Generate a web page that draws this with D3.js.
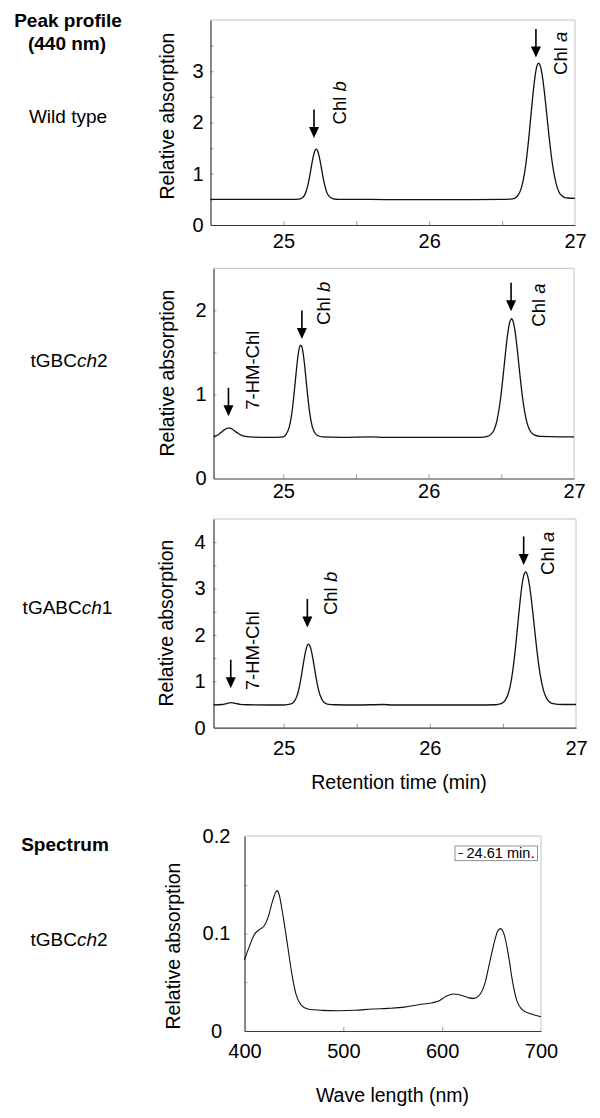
<!DOCTYPE html>
<html><head><meta charset="utf-8">
<script src="https://cdn.jsdelivr.net/npm/d3@7/dist/d3.min.js"></script>
<style>
html,body{margin:0;padding:0;background:#fff;}
svg{display:block;}
text{font-family:"Liberation Sans",Arial,Helvetica,sans-serif;fill:#000;}
</style></head><body>
<svg id="chart" width="600" height="1118"></svg>
<script>
// ---------------- DATA ----------------
const chromTicksX = [25, 26, 27];
const chromMinorX = [25, 25.5, 26, 26.5];
const wildTypeTicksY = [0, 1, 2, 3];
const tGBCch2TicksY = [0, 1, 2];
const tGABCch1TicksY = [0, 1, 2, 3, 4];
const spectrumTicksX = [400, 500, 600, 700];
const spectrumTicksY = [0, 0.1, 0.2];

// retention time (min), relative absorption
const wildTypeTrace = [
 [24.50,0.50],[24.60,0.50],[24.70,0.50],[24.80,0.50],[24.90,0.50],[25.00,0.50],[25.06,0.50],
 [25.105,0.504],[25.125,0.521],[25.145,0.583],[25.155,0.648],[25.165,0.744],[25.175,0.873],
 [25.185,1.028],[25.195,1.193],[25.205,1.34],[25.215,1.443],[25.225,1.48],[25.235,1.445],
 [25.245,1.345],[25.255,1.20],[25.265,1.04],[25.275,0.885],[25.285,0.757],[25.295,0.66],
 [25.305,0.595],[25.325,0.53],[25.345,0.51],[25.375,0.50],[25.50,0.50],[25.70,0.497],
 [26.00,0.497],[26.30,0.497],[26.50,0.50],[26.55,0.505],
 [26.57,0.508],[26.59,0.528],[26.61,0.581],[26.63,0.705],[26.65,0.949],[26.67,1.351],
 [26.68,1.612],[26.69,1.902],[26.70,2.205],[26.71,2.50],[26.72,2.766],[26.73,2.977],
 [26.74,3.113],[26.75,3.16],[26.76,3.12],[26.77,3.006],[26.78,2.827],[26.79,2.597],
 [26.80,2.335],[26.81,2.058],[26.82,1.785],[26.83,1.527],[26.85,1.102],[26.87,0.813],
 [26.89,0.645],[26.91,0.57],[26.93,0.535],[26.95,0.527],[27.00,0.52]
];
const tGBCch2Trace = [
 [24.52,0.50],[24.54,0.51],[24.56,0.53],[24.58,0.56],[24.60,0.585],[24.62,0.60],[24.635,0.598],
 [24.65,0.585],[24.67,0.56],[24.69,0.535],[24.71,0.515],[24.74,0.50],[24.80,0.492],[24.90,0.49],
 [24.95,0.49],[25.00,0.495],[25.02,0.528],[25.04,0.605],[25.05,0.682],[25.06,0.792],[25.07,0.937],
 [25.08,1.108],[25.09,1.285],[25.10,1.442],[25.11,1.551],[25.12,1.585],[25.13,1.553],[25.14,1.448],
 [25.15,1.295],[25.16,1.12],[25.17,0.95],[25.18,0.805],[25.19,0.695],[25.20,0.615],[25.22,0.535],
 [25.24,0.508],[25.27,0.495],[25.40,0.49],[25.60,0.495],[25.70,0.49],[26.00,0.49],[26.20,0.49],
 [26.35,0.49],[26.41,0.505],[26.43,0.528],[26.45,0.578],[26.47,0.689],[26.49,0.889],[26.50,1.025],
 [26.51,1.182],[26.52,1.349],[26.53,1.516],[26.54,1.669],[26.55,1.792],[26.56,1.872],[26.57,1.90],
 [26.58,1.874],[26.59,1.80],[26.60,1.68],[26.61,1.53],[26.62,1.365],[26.63,1.20],[26.64,1.045],
 [26.65,0.91],[26.67,0.71],[26.69,0.595],[26.71,0.54],[26.73,0.515],[26.77,0.50],[26.90,0.495],
 [27.00,0.495]
];
const tGABCch1Trace = [
 [24.52,0.49],[24.58,0.50],[24.61,0.52],[24.64,0.54],[24.67,0.525],[24.70,0.505],[24.75,0.495],
 [24.90,0.49],[25.00,0.49],[25.03,0.502],[25.05,0.514],[25.07,0.557],[25.09,0.676],[25.10,0.781],
 [25.11,0.922],[25.12,1.095],[25.13,1.289],[25.14,1.481],[25.15,1.647],[25.16,1.76],[25.17,1.80],
 [25.18,1.762],[25.19,1.652],[25.20,1.49],[25.21,1.30],[25.22,1.11],[25.23,0.94],[25.24,0.80],
 [25.25,0.695],[25.27,0.57],[25.29,0.52],[25.31,0.503],[25.35,0.495],[25.50,0.49],[25.68,0.50],
 [25.75,0.49],[26.00,0.49],[26.30,0.49],[26.45,0.495],[26.475,0.509],[26.495,0.53],[26.515,0.587],
 [26.535,0.72],[26.555,0.983],[26.575,1.415],[26.585,1.695],[26.595,2.007],[26.605,2.333],
 [26.615,2.651],[26.625,2.937],[26.635,3.163],[26.645,3.309],[26.655,3.36],[26.665,3.317],
 [26.675,3.194],[26.685,3.0],[26.695,2.754],[26.705,2.473],[26.715,2.176],[26.725,1.88],
 [26.735,1.604],[26.755,1.146],[26.775,0.837],[26.795,0.655],[26.815,0.564],[26.835,0.523],
 [26.875,0.505],[27.00,0.50]
];
// wavelength (nm), relative absorption at 24.61 min
const spectrumTrace = [
 [400,0.073],[405,0.087],[410,0.099],[415,0.104],[420,0.108],[424,0.117],[428,0.132],[431,0.141],
 [433,0.144],[435,0.140],[439,0.118],[444,0.085],[448,0.058],[452,0.038],[457,0.027],[464,0.0225],
 [478,0.0212],[495,0.0208],[512,0.0213],[529,0.0225],[545,0.0232],[562,0.0245],[576,0.027],
 [590,0.029],[597,0.031],[603,0.035],[611,0.038],[620,0.0365],[627,0.034],[632,0.0335],[637,0.036],
 [643,0.048],[648,0.07],[653,0.092],[656,0.102],[659,0.105],[663,0.098],[667,0.078],[671,0.052],
 [675,0.033],[681,0.022],[690,0.0175],[700,0.0147]
];
// peak annotations: label, italic part, arrow time (min), arrow tip value
const wildTypePeaks = [
 {label:"Chl ", ital:"b", time:25.21, tip:1.70},
 {label:"Chl ", ital:"a", time:26.732, tip:3.27}
];
const tGBCch2Peaks = [
 {label:"7-HM-Chl", ital:"", time:24.623, tip:0.74},
 {label:"Chl ", ital:"b", time:25.128, tip:1.66},
 {label:"Chl ", ital:"a", time:26.567, tip:1.99}
];
const tGABCch1Peaks = [
 {label:"7-HM-Chl", ital:"", time:24.638, tip:0.85},
 {label:"Chl ", ital:"b", time:25.162, tip:2.16},
 {label:"Chl ", ital:"a", time:26.642, tip:3.51}
];
const legendLabel = "24.61 min.";

// ---------------- LAYOUT ----------------
const svg = d3.select("#chart");
const FRAME = "#c4c4c4", AXIS = "#3a3a3a", TICK = "#9a9a9a";

function rowLabel(x, y, parts, bold) {
  const t = svg.append("text").attr("x", x).attr("y", y).attr("text-anchor", "middle")
    .style("font-size", "19px").style("font-weight", bold ? "bold" : "normal");
  parts.forEach(p => t.append("tspan").text(p[0]).style("font-style", p[1] ? "italic" : "normal"));
}

function yTitle(x, y) {
  svg.append("text").attr("transform", `translate(${x},${y}) rotate(-90)`)
    .attr("text-anchor", "middle").style("font-size", "19.5px").text("Relative absorption");
}

function panel(cfg) {
  const g = svg.append("g");
  const x = d3.scaleLinear().domain(cfg.xDomain).range([cfg.left, cfg.right]);
  const y = d3.scaleLinear().domain(cfg.yDomain).range([cfg.bottom, cfg.top]);
  g.append("path").attr("d", `M${cfg.left},${cfg.top}H${cfg.right}V${cfg.bottom}`)
    .attr("fill", "none").attr("stroke", FRAME).attr("stroke-width", 1);
  g.append("g").attr("transform", `translate(${cfg.left},0)`)
    .call(d3.axisLeft(y).tickValues(cfg.minorY).tickSize(-3).tickSizeOuter(0).tickFormat(""))
    .call(s => { s.select(".domain").remove(); s.selectAll("line").attr("stroke", TICK); });
  g.append("g").attr("transform", `translate(0,${cfg.bottom})`)
    .call(d3.axisBottom(x).tickValues(cfg.minorX).tickSize(-4).tickSizeOuter(0).tickFormat(""))
    .call(s => { s.select(".domain").remove(); s.selectAll("line").attr("stroke", TICK); });
  const ya = g.append("g").attr("transform", `translate(${cfg.left},0)`)
    .call(d3.axisLeft(y).tickValues(cfg.ticksY).tickSize(0).tickSizeOuter(0).tickPadding(cfg.yPad)
      .tickFormat(cfg.yFmt));
  ya.select(".domain").attr("stroke", AXIS).attr("stroke-width", 1.2);
  ya.selectAll("text").style("font-size", "20px").style("font-family", null).attr("fill", "#000");
  if (cfg.yAnchorMiddle) ya.selectAll("text").attr("text-anchor", "middle").attr("x", cfg.yLabelX - cfg.left);
  const xa = g.append("g").attr("transform", `translate(0,${cfg.bottom})`)
    .call(d3.axisBottom(x).tickValues(cfg.ticksX).tickSize(0).tickSizeOuter(0).tickFormat(cfg.xFmt));
  xa.select(".domain").attr("stroke", AXIS).attr("stroke-width", 1.2);
  xa.selectAll("text").style("font-size", "20px").style("font-family", null).attr("fill", "#000")
    .attr("dy", null).attr("y", cfg.xLabelBase - cfg.bottom);
  const line = d3.line().x(d => x(d[0])).y(d => y(d[1])).curve(d3.curveMonotoneX);
  g.append("path").datum(cfg.trace).attr("d", line).attr("fill", "none")
    .attr("stroke", "#111").attr("stroke-width", cfg.lw || 1.3).attr("stroke-linejoin", "round");
  (cfg.peaks || []).forEach((p, i) => {
    const ax = x(p.time), ty = y(p.tip);
    const o = cfg.annOffsets[i];
    g.append("line").attr("x1", ax).attr("x2", ax).attr("y1", ty - 28.5).attr("y2", ty - 9)
      .attr("stroke", "#000").attr("stroke-width", 1.6);
    g.append("path").attr("d", `M${ax - 5},${ty - 11}L${ax + 5},${ty - 11}L${ax},${ty}Z`).attr("fill", "#000");
    const t = g.append("text").attr("transform", `translate(${ax + o[0]},${ty + o[1]}) rotate(-90)`)
      .style("font-size", "18.5px");
    t.append("tspan").text(p.label);
    if (p.ital) t.append("tspan").text(p.ital).style("font-style", "italic");
  });
  return {x, y};
}

// ---- row labels ----
rowLabel(68, 26.5, [["Peak profile", 0]], true);
rowLabel(67, 49.5, [["(440 nm)", 0]], true);
rowLabel(68, 123, [["Wild type", 0]]);
rowLabel(69, 367, [["tGBC", 0], ["ch", 1], ["2", 0]]);
rowLabel(67.5, 613.5, [["tGABC", 0], ["ch", 1], ["1", 0]]);
rowLabel(65, 851, [["Spectrum", 0]], true);
rowLabel(69, 946, [["tGBC", 0], ["ch", 1], ["2", 0]]);

const intFmt = d3.format("d");

panel({left:210.5, right:575, top:20, bottom:225, xDomain:[24.5,27], yDomain:[0,4],
  ticksX:chromTicksX, minorX:chromMinorX, ticksY:wildTypeTicksY, minorY:[0.5,1,1.5,2,2.5,3,3.5],
  yPad:7, xLabelBase:248, xFmt:intFmt, yFmt:intFmt, trace:wildTypeTrace, peaks:wildTypePeaks,
  annOffsets:[[32,-13.5],[31,17.5]]});
yTitle(174, 116);

panel({left:213.5, right:574, top:268.3, bottom:478.5, xDomain:[24.52,27], yDomain:[0,2.5],
  ticksX:chromTicksX, minorX:chromMinorX, ticksY:tGBCch2TicksY, minorY:[0.5,1,1.5,2],
  yPad:7, xLabelBase:498, xFmt:intFmt, yFmt:intFmt, trace:tGBCch2Trace, peaks:tGBCch2Peaks,
  annOffsets:[[30.5,-6.5],[28.5,-14],[33.5,15.5]]});
yTitle(174, 373);

panel({left:213.5, right:576, top:519, bottom:727.7, xDomain:[24.52,27], yDomain:[0,4.5],
  ticksX:chromTicksX, minorX:chromMinorX, ticksY:tGABCch1TicksY, minorY:[0.5,1,1.5,2,2.5,3,3.5,4],
  yPad:8, xLabelBase:755, xFmt:intFmt, yFmt:intFmt, trace:tGABCch1Trace, peaks:tGABCch1Peaks,
  annOffsets:[[28.5,2],[30,-12.5],[30.5,10]]});
yTitle(172.5, 623);

svg.append("text").attr("x", 399).attr("y", 789).attr("text-anchor", "middle")
  .style("font-size", "19.5px").text("Retention time (min)");

// ---- spectrum ----
panel({left:244.5, right:541, top:836, bottom:1031, xDomain:[400,700], yDomain:[0,0.2],
  ticksX:spectrumTicksX, minorX:[500,600], ticksY:spectrumTicksY, minorY:[0.05,0.1,0.15],
  yPad:14, yAnchorMiddle:true, yLabelX:216.5, xLabelBase:1058, xFmt:intFmt,
  yFmt:d => d === 0 ? "0" : d.toFixed(1), trace:spectrumTrace, lw:1.1});
yTitle(180, 946);
svg.append("text").attr("x", 392.5).attr("y", 1102).attr("text-anchor", "middle")
  .style("font-size", "19.5px").text("Wave length (nm)");

// legend box
svg.append("rect").attr("x", 455).attr("y", 846).attr("width", 82.5).attr("height", 14.7)
  .attr("fill", "#fff").attr("stroke", "#777").attr("stroke-width", 0.8);
svg.append("line").attr("x1", 458.5).attr("x2", 463).attr("y1", 853.5).attr("y2", 853.5)
  .attr("stroke", "#222").attr("stroke-width", 1);
svg.append("text").attr("x", 466.5).attr("y", 858.3).style("font-size", "14px")
  .attr("textLength", 68).attr("lengthAdjust", "spacingAndGlyphs").text(legendLabel);
</script>
</body></html>
